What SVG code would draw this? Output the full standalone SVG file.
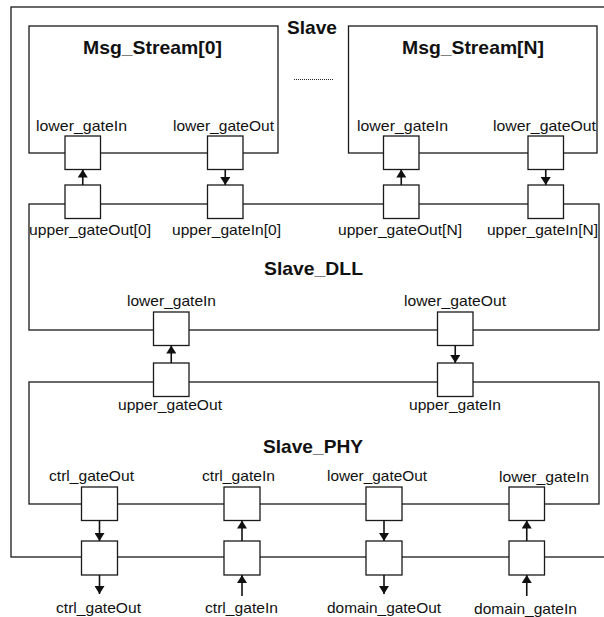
<svg xmlns="http://www.w3.org/2000/svg" width="604" height="617" viewBox="0 0 604 617">
<style>
.box{fill:none;stroke:#1a1a1a;stroke-width:1.3}
.gate{fill:#fff;stroke:#1a1a1a;stroke-width:1.3}
.lbl{font-family:"Liberation Sans",Arial,sans-serif;font-size:14.5px;fill:#111;text-anchor:middle}
.ttl{font-family:"Liberation Sans",Arial,sans-serif;font-size:19px;font-weight:bold;fill:#111;text-anchor:middle}
.arr{stroke:#111;stroke-width:1.6;fill:none;marker-end:url(#ah)}
</style>
<defs>
<marker id="ah" viewBox="0 0 8 10" refX="8" refY="5" markerWidth="8" markerHeight="10" markerUnits="userSpaceOnUse" orient="auto">
<path d="M0,0 L8,5 L0,10 z" fill="#111"/>
</marker>
</defs>
<rect width="604" height="617" fill="#fff"/>
<g id="slave">
<rect class="box" x="11" y="7" width="600" height="550"/>
<text class="ttl" x="312" y="34" textLength="50" lengthAdjust="spacingAndGlyphs">Slave</text>
<line x1="294" y1="79.5" x2="333" y2="79.5" stroke="#222" stroke-width="1" stroke-dasharray="1,1"/>
</g>
<g id="msg_stream_0">
<rect class="box" x="29" y="26" width="249" height="127"/>
<text class="ttl" x="152.5" y="54" textLength="139" lengthAdjust="spacingAndGlyphs">Msg_Stream[0]</text>
<text class="lbl" x="81.5" y="131" textLength="91" lengthAdjust="spacingAndGlyphs">lower_gateIn</text>
<text class="lbl" x="223.5" y="131" textLength="101" lengthAdjust="spacingAndGlyphs">lower_gateOut</text>
<rect class="gate" x="65" y="136" width="35.5" height="33.5"/>
<rect class="gate" x="207.5" y="136" width="35.5" height="33.5"/>
</g>
<g id="msg_stream_n">
<rect class="box" x="348.5" y="26" width="248.5" height="127"/>
<text class="ttl" x="473" y="54" textLength="142" lengthAdjust="spacingAndGlyphs">Msg_Stream[N]</text>
<text class="lbl" x="402.5" y="131" textLength="91" lengthAdjust="spacingAndGlyphs">lower_gateIn</text>
<text class="lbl" x="544.5" y="131" textLength="103" lengthAdjust="spacingAndGlyphs">lower_gateOut</text>
<rect class="gate" x="383.5" y="136" width="35.5" height="33.5"/>
<rect class="gate" x="528" y="136" width="35.5" height="33.5"/>
</g>
<g id="slave_dll">
<rect class="box" x="29" y="204" width="570" height="126"/>
<rect class="gate" x="65" y="185" width="35.5" height="33.5"/>
<rect class="gate" x="207.5" y="185" width="35.5" height="33.5"/>
<rect class="gate" x="383.5" y="185" width="35.5" height="33.5"/>
<rect class="gate" x="528" y="185" width="35.5" height="33.5"/>
<text class="lbl" x="90" y="235" textLength="122" lengthAdjust="spacingAndGlyphs">upper_gateOut[0]</text>
<text class="lbl" x="226.5" y="235" textLength="109" lengthAdjust="spacingAndGlyphs">upper_gateIn[0]</text>
<text class="lbl" x="400" y="235" textLength="124" lengthAdjust="spacingAndGlyphs">upper_gateOut[N]</text>
<text class="lbl" x="542.5" y="235" textLength="111" lengthAdjust="spacingAndGlyphs">upper_gateIn[N]</text>
<text class="ttl" x="313.5" y="275" textLength="99" lengthAdjust="spacingAndGlyphs">Slave_DLL</text>
<text class="lbl" x="171.5" y="306" textLength="89" lengthAdjust="spacingAndGlyphs">lower_gateIn</text>
<text class="lbl" x="455" y="306" textLength="102" lengthAdjust="spacingAndGlyphs">lower_gateOut</text>
<rect class="gate" x="153.5" y="312" width="35.5" height="33.5"/>
<rect class="gate" x="437.5" y="312" width="35.5" height="33.5"/>
</g>
<g id="slave_phy">
<rect class="box" x="29" y="382" width="570" height="122"/>
<rect class="gate" x="153.5" y="363" width="35.5" height="33.5"/>
<rect class="gate" x="437.5" y="363" width="35.5" height="33.5"/>
<text class="lbl" x="170" y="410" textLength="104" lengthAdjust="spacingAndGlyphs">upper_gateOut</text>
<text class="lbl" x="455" y="410" textLength="92" lengthAdjust="spacingAndGlyphs">upper_gateIn</text>
<text class="ttl" x="313" y="453" textLength="100" lengthAdjust="spacingAndGlyphs">Slave_PHY</text>
<text class="lbl" x="91.5" y="481" textLength="85" lengthAdjust="spacingAndGlyphs">ctrl_gateOut</text>
<text class="lbl" x="238.5" y="481" textLength="73" lengthAdjust="spacingAndGlyphs">ctrl_gateIn</text>
<text class="lbl" x="377" y="481" textLength="100" lengthAdjust="spacingAndGlyphs">lower_gateOut</text>
<text class="lbl" x="544" y="482" textLength="90" lengthAdjust="spacingAndGlyphs">lower_gateIn</text>
<rect class="gate" x="81.5" y="487" width="36" height="33.5"/>
<rect class="gate" x="224" y="487" width="36" height="33.5"/>
<rect class="gate" x="366" y="487" width="36" height="33.5"/>
<rect class="gate" x="509" y="487" width="35.5" height="33.5"/>
</g>
<g id="slave_gates">
<rect class="gate" x="81.5" y="541" width="36" height="34"/>
<rect class="gate" x="224" y="541" width="36" height="34"/>
<rect class="gate" x="366" y="541" width="36" height="34"/>
<rect class="gate" x="509" y="541" width="35.5" height="34"/>
<text class="lbl" x="98.5" y="613" textLength="85" lengthAdjust="spacingAndGlyphs">ctrl_gateOut</text>
<text class="lbl" x="241.5" y="613" textLength="73" lengthAdjust="spacingAndGlyphs">ctrl_gateIn</text>
<text class="lbl" x="384" y="613" textLength="114" lengthAdjust="spacingAndGlyphs">domain_gateOut</text>
<text class="lbl" x="525.5" y="614" textLength="103" lengthAdjust="spacingAndGlyphs">domain_gateIn</text>
</g>
<g id="connectors">
<line class="arr" x1="82.75" y1="185" x2="82.75" y2="169.5"/>
<line class="arr" x1="225.25" y1="169.5" x2="225.25" y2="185"/>
<line class="arr" x1="401.25" y1="185" x2="401.25" y2="169.5"/>
<line class="arr" x1="545.75" y1="169.5" x2="545.75" y2="185"/>
<line class="arr" x1="171.25" y1="363" x2="171.25" y2="345.5"/>
<line class="arr" x1="455.25" y1="345.5" x2="455.25" y2="363"/>
<line class="arr" x1="99.5" y1="520.5" x2="99.5" y2="541"/>
<line class="arr" x1="99.5" y1="575" x2="99.5" y2="594"/>
<line class="arr" x1="242" y1="541" x2="242" y2="520.5"/>
<line class="arr" x1="242" y1="596" x2="242" y2="575"/>
<line class="arr" x1="384" y1="520.5" x2="384" y2="541"/>
<line class="arr" x1="384" y1="575" x2="384" y2="594"/>
<line class="arr" x1="526.75" y1="541" x2="526.75" y2="520.5"/>
<line class="arr" x1="526.75" y1="596" x2="526.75" y2="575"/>
</g>
</svg>
